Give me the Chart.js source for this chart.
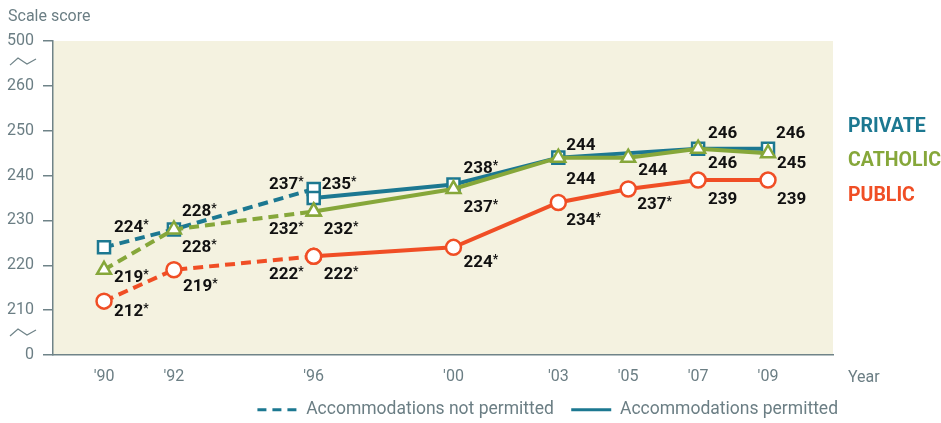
<!DOCTYPE html>
<html>
<head>
<meta charset="utf-8">
<title>Scale score by school type</title>
<script src="https://cdn.jsdelivr.net/npm/chart.js@4.4.1/dist/chart.umd.min.js"></script>
<style>
    html, body { margin: 0; padding: 0; background: #fff; }
</style>
</head>
<body>
<canvas id="scoreChart" width="941" height="423"></canvas>
<script>
// Years and tick labels
const yearsNotPermitted = [1990, 1992, 1996];
const yearsPermitted = [1996, 2000, 2003, 2005, 2007, 2009];
const xTickValues = [1990, 1992, 1996, 2000, 2003, 2005, 2007, 2009];
const xTickLabels = ["'90", "'92", "'96", "'00", "'03", "'05", "'07", "'09"];

// Broken axis: 200 stands for 0 and 270 stands for 500
const yTickValues = [200, 210, 220, 230, 240, 250, 260, 270];
const yTickLabels = ['0', '210', '220', '230', '240', '250', '260', '500'];

// Scale scores
const privateNotPermitted = [224, 228, 237];
const privatePermitted = [235, 238, 244, null, 246, 246];
const catholicNotPermitted = [219, 228, 232];
const catholicPermitted = [232, 237, 244, 244, 246, 245];
const publicNotPermitted = [212, 219, 222];
const publicPermitted = [222, 224, 234, 237, 239, 239];

// * = significantly different from 2009
const privateNotPermittedStar = [true, true, true];
const privatePermittedStar = [true, true, false, false, false, false];
const catholicNotPermittedStar = [true, true, true];
const catholicPermittedStar = [true, true, false, false, false, false];
const publicNotPermittedStar = [true, true, true];
const publicPermittedStar = [true, true, true, true, false, false];

const seriesNames = ['PRIVATE', 'CATHOLIC', 'PUBLIC'];

// Styling
const fontFamily = "Roboto, 'Liberation Sans', sans-serif";
const teal = '#1c7891';
const green = '#86a73a';
const orange = '#f04e25';
const axisGray = '#6f8388';
const textGray = '#6b7e84';
const plotBg = '#f4f2e0';
const nameColors = [teal, green, orange];
const nameLevels = [250.8, 243.2, 235.4];

// label offsets from the point: [dx, dy, align]
const offPrivateNP = [[10, -21, 'left'], [8, -19, 'left'], [-10, -6, 'right']];
const offPrivateP = [[8, -15, 'left'], [10, -18, 'left'], [8, -14, 'left'], null, [10, -17, 'left'], [8, -17, 'left']];
const offCatholicNP = [[10, 6, 'left'], [8, 17, 'left'], [-10, 17, 'right']];
const offCatholicP = [[10, 17, 'left'], [10, 17, 'left'], [8, 20, 'left'], [10, 11, 'left'], [10, 13, 'left'], [9, 9, 'left']];
const offPublicNP = [[10, 9, 'left'], [9, 15, 'left'], [-10, 17, 'right']];
const offPublicP = [[10, 17, 'left'], [10, 14, 'left'], [8, 17, 'left'], [9, 14, 'left'], [10, 18, 'left'], [9, 18, 'left']];

function toPoints(years, values) {
    return years.map((yr, i) => ({ x: yr, y: values[i] }));
}

function makeSet(years, values, color, style, radius, dashed, stars, offsets, order) {
    return {
        data: toPoints(years, values),
        borderColor: color,
        borderWidth: 4,
        borderDash: dashed ? [10, 6] : [],
        pointStyle: style,
        pointRadius: radius,
        pointBorderWidth: 2.5,
        pointBackgroundColor: '#ffffff',
        pointBorderColor: color,
        spanGaps: true,
        tension: 0,
        order: order,
        stars: stars,
        labelOffsets: offsets
    };
}

// Plot background, axis break marks and free texts
const decorations = {
    id: 'decorations',
    beforeDraw(chart) {
        const { ctx, chartArea } = chart;
        ctx.save();
        ctx.fillStyle = plotBg;
        ctx.fillRect(chartArea.left, chartArea.top, chartArea.right - chartArea.left, chartArea.bottom - chartArea.top);
        ctx.restore();
    },
    afterDraw(chart) {
        const ctx = chart.ctx;
        const y = chart.scales.y;
        ctx.save();
        ctx.strokeStyle = axisGray;
        ctx.lineWidth = 1.2;
        [265.3, 204.9].forEach(v => {
            const py = y.getPixelForValue(v);
            ctx.beginPath();
            ctx.moveTo(10, py + 3);
            ctx.lineTo(18, py - 4);
            ctx.lineTo(27, py + 2);
            ctx.lineTo(36, py - 3);
            ctx.stroke();
        });
        ctx.fillStyle = textGray;
        ctx.font = `16px ${fontFamily}`;
        ctx.textBaseline = 'middle';
        ctx.textAlign = 'left';
        ctx.fillText('Scale score', 8, 17);
        ctx.fillText('Year', 848, chart.scales.x.top + 23);

        // series names on the right
        ctx.font = `bold 19.5px ${fontFamily}`;
        seriesNames.forEach((name, i) => {
            ctx.fillStyle = nameColors[i];
            ctx.fillText(name, chart.chartArea.right + 15, y.getPixelForValue(nameLevels[i]));
        });
        ctx.restore();
    }
};

// Value labels next to the markers
const valueLabels = {
    id: 'valueLabels',
    afterDatasetsDraw(chart) {
        const ctx = chart.ctx;
        ctx.save();
        ctx.fillStyle = '#111111';
        ctx.textBaseline = 'alphabetic';
        ctx.textAlign = 'left';
        chart.data.datasets.forEach((ds, i) => {
            const meta = chart.getDatasetMeta(i);
            meta.data.forEach((pt, j) => {
                const v = ds.data[j].y;
                const off = ds.labelOffsets[j];
                if (v == null || !off) return;
                const num = String(v);
                const star = ds.stars[j];
                ctx.font = `bold 17px ${fontFamily}`;
                const w1 = ctx.measureText(num).width;
                ctx.font = `bold 12px ${fontFamily}`;
                const w2 = star ? ctx.measureText('*').width : 0;
                let x0 = pt.x + off[0];
                if (off[2] === 'right') x0 -= w1 + w2;
                const y0 = pt.y + off[1];
                ctx.font = `bold 17px ${fontFamily}`;
                ctx.fillText(num, x0, y0 + 6);
                if (star) {
                    ctx.font = `bold 12px ${fontFamily}`;
                    ctx.fillText('*', x0 + w1, y0 + 2);
                }
            });
        });
        ctx.restore();
    }
};

const ctx = document.getElementById('scoreChart').getContext('2d');

new Chart(ctx, {
    type: 'line',
    data: {
        datasets: [
            makeSet(yearsNotPermitted, publicNotPermitted, orange, 'circle', 7.5, true, publicNotPermittedStar, offPublicNP, 1),
            makeSet(yearsPermitted, publicPermitted, orange, 'circle', 7.5, false, publicPermittedStar, offPublicP, 0),
            makeSet(yearsNotPermitted, catholicNotPermitted, green, 'triangle', 8, true, catholicNotPermittedStar, offCatholicNP, 3),
            makeSet(yearsPermitted, catholicPermitted, green, 'triangle', 8, false, catholicPermittedStar, offCatholicP, 2),
            makeSet(yearsNotPermitted, privateNotPermitted, teal, 'rect', 8.5, true, privateNotPermittedStar, offPrivateNP, 5),
            makeSet(yearsPermitted, privatePermitted, teal, 'rect', 8.5, false, privatePermittedStar, offPrivateP, 4)
        ]
    },
    options: {
        responsive: false,
        animation: false,
        layout: { padding: { left: 0, right: 90, top: 41, bottom: 0 } },
        scales: {
            x: {
                type: 'linear',
                min: 1988.54,
                max: 2010.86,
                afterBuildTicks: axis => { axis.ticks = xTickValues.map(v => ({ value: v })); },
                afterFit: axis => { axis.height = 33; },
                grid: { display: false, drawTicks: false },
                border: { display: true, color: axisGray, width: 1.5 },
                ticks: {
                    autoSkip: false,
                    maxRotation: 0,
                    padding: 12,
                    color: textGray,
                    font: { family: fontFamily, size: 16 },
                    callback: v => xTickLabels[xTickValues.indexOf(v)]
                }
            },
            y: {
                type: 'linear',
                min: 200,
                max: 270,
                afterBuildTicks: axis => { axis.ticks = yTickValues.map(v => ({ value: v })); },
                afterFit: axis => { axis.width = 53; },
                grid: { drawOnChartArea: false, drawTicks: true, tickLength: 10, color: axisGray, lineWidth: 1.5 },
                border: { display: true, color: axisGray, width: 1.5 },
                ticks: {
                    padding: 9,
                    color: textGray,
                    font: { family: fontFamily, size: 16 },
                    callback: v => yTickLabels[yTickValues.indexOf(v)]
                }
            },
            // empty spacer on the right, leaves room for the series names
            spacer: {
                type: 'linear',
                axis: 'y',
                position: 'right',
                min: 200,
                max: 270,
                afterFit: axis => { axis.width = 18; },
                grid: { display: false, drawTicks: false },
                border: { display: false },
                ticks: { display: false }
            }
        },
        plugins: {
            legend: {
                position: 'bottom',
                align: 'end',
                maxHeight: 35,
                labels: {
                    usePointStyle: true,
                    pointStyleWidth: 40,
                    padding: 13,
                    color: textGray,
                    font: { family: fontFamily, size: 17.5 },
                    generateLabels: function (chart) {
                        return [
                            {
                                text: 'Accommodations not permitted ',
                                strokeStyle: teal,
                                fillStyle: teal,
                                fontColor: textGray,
                                lineWidth: 3,
                                lineDash: [9, 6],
                                pointStyle: 'line'
                            },
                            {
                                text: 'Accommodations permitted',
                                strokeStyle: teal,
                                fillStyle: teal,
                                fontColor: textGray,
                                lineWidth: 3,
                                pointStyle: 'line'
                            }
                        ];
                    }
                }
            },
            tooltip: { enabled: false }
        }
    },
    plugins: [decorations, valueLabels]
});
</script>
</body>
</html>
